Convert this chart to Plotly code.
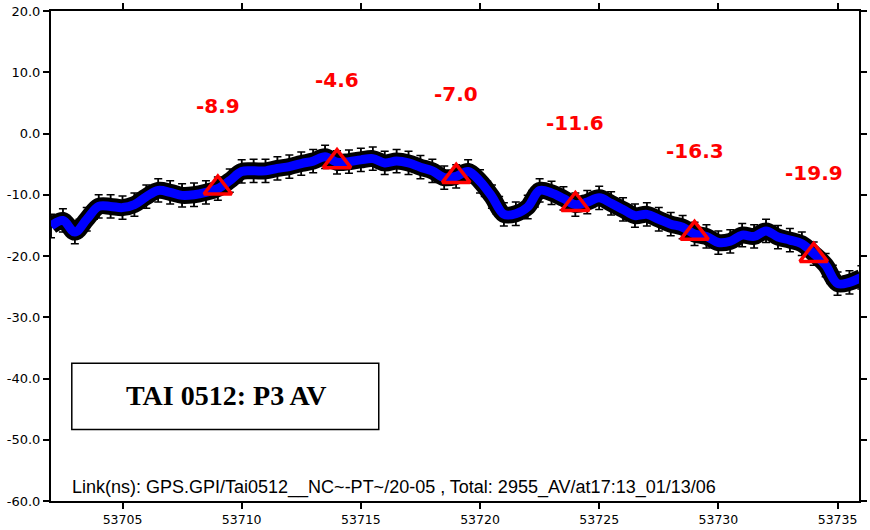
import plotly.graph_objects as go

# Smoothed link (blue), MJD vs ns
mjd = [53702.0, 53702.5, 53703.0, 53703.5, 53704.0, 53704.5, 53705.0, 53705.5,
       53706.0, 53706.5, 53707.0, 53707.5, 53708.0, 53708.5, 53709.0, 53709.5,
       53710.0, 53710.5, 53711.0, 53711.5, 53712.0, 53712.5, 53713.0, 53713.5,
       53714.0, 53714.5, 53715.0, 53715.5, 53716.0, 53716.5, 53717.0, 53717.5,
       53718.0, 53718.5, 53719.0, 53719.5, 53720.0, 53720.5, 53721.0, 53721.5,
       53722.0, 53722.5, 53723.0, 53723.5, 53724.0, 53724.5, 53725.0, 53725.5,
       53726.0, 53726.5, 53727.0, 53727.5, 53728.0, 53728.5, 53729.0, 53729.5,
       53730.0, 53730.5, 53731.0, 53731.5, 53732.0, 53732.5, 53733.0, 53733.5,
       53734.0, 53734.5, 53735.0, 53735.5, 53736.0]
ns = [-15.1, -14.2, -16.1, -14.0, -11.9, -11.9, -12.1, -11.6,
      -10.3, -9.3, -9.6, -10.1, -10.0, -9.6, -9.0, -7.7,
      -6.2, -6.1, -6.1, -5.7, -5.4, -4.9, -4.5, -3.8,
      -4.7, -4.6, -4.3, -4.1, -4.8, -4.5, -4.8, -5.5,
      -6.1, -7.2, -7.0, -6.2, -7.8, -10.3, -13.2, -13.1,
      -12.0, -9.3, -9.7, -10.6, -11.6, -11.2, -10.5, -11.4,
      -12.4, -13.4, -13.2, -14.0, -14.8, -15.3, -16.4, -16.8,
      -17.8, -17.6, -16.6, -16.8, -15.9, -16.9, -17.4, -18.0,
      -19.6, -21.5, -24.5, -24.3, -23.5]

# Marked averages (red triangles)
mark_mjd = [53709, 53714, 53719, 53724, 53729, 53734]
mark_ns = [-8.9, -4.6, -7.0, -11.6, -16.3, -19.9]
mark_labels = ["-8.9", "-4.6", "-7.0", "-11.6", "-16.3", "-19.9"]

x_ticks = [53705, 53710, 53715, 53720, 53725, 53730, 53735]
y_ticks = [20, 10, 0, -10, -20, -30, -40, -50, -60]
y_ticklabels = ["20.0", "10.0", "0.0", "-10.0", "-20.0", "-30.0", "-40.0", "-50.0", "-60.0"]

title_text = "TAI 0512: P3 AV"
footer_text = "Link(ns): GPS.GPI/Tai0512__NC~-PT~/20-05 , Total: 2955_AV/at17:13_01/13/06"

fig = go.Figure()

# black measurement band: thick line + spread bars + cross markers
fig.add_trace(go.Scatter(
    x=mjd, y=ns, mode="lines+markers",
    line=dict(color="black", width=17, shape="spline"),
    marker=dict(symbol="cross-thin", size=16, line=dict(color="black", width=1.5)),
    error_y=dict(type="constant", value=1.9, color="black", thickness=1.5, width=4),
    hoverinfo="skip", showlegend=False))
# blue smoothed line
fig.add_trace(go.Scatter(
    x=mjd, y=ns, mode="lines",
    line=dict(color="#0000ff", width=9, shape="spline"),
    showlegend=False))
# red triangles
fig.add_trace(go.Scatter(
    x=mark_mjd, y=mark_ns, mode="markers",
    marker=dict(symbol="triangle-up-open", size=24, line=dict(color="#ff0000", width=3.5),
                color="#ff0000"),
    showlegend=False))

for xv, yv, lab in zip(mark_mjd, mark_ns, mark_labels):
    fig.add_annotation(x=xv, y=yv, text="<b>%s</b>" % lab, showarrow=False,
                       yshift=82, font=dict(family="DejaVu Sans", size=20, color="#ff0000"))

# title box
fig.add_shape(type="rect", xref="paper", yref="paper",
              x0=(72 - 51) / 816, x1=(382 - 51) / 816,
              y0=(505 - 433) / 494, y1=(505 - 366) / 494,
              line=dict(color="black", width=1.5), fillcolor="white", layer="below")
fig.add_annotation(xref="paper", yref="paper", x=(228 - 51) / 816, y=(505 - 399) / 494,
                   xanchor="center", yanchor="middle",
                   text="<b>%s</b>" % title_text, showarrow=False,
                   font=dict(family="Liberation Serif, Times New Roman", size=28, color="black"))

fig.add_annotation(xref="paper", yref="paper", x=(70 - 51) / 816, y=0.0, yshift=1,
                   xanchor="left", yanchor="bottom", text=footer_text, showarrow=False,
                   font=dict(family="Liberation Sans, Arial", size=18, color="black"))

fig.update_layout(
    width=870, height=530,
    margin=dict(l=51, r=3, t=11, b=25),
    paper_bgcolor="white", plot_bgcolor="white",
    font=dict(family="DejaVu Sans", color="black"),
)
fig.update_xaxes(range=[53702.0, 53735.9], tickvals=x_ticks, ticktext=[str(v) for v in x_ticks],
                 showgrid=False, zeroline=False, showline=True, linecolor="black", linewidth=2,
                 mirror="ticks", ticks="outside", ticklen=6, tickwidth=2, tickcolor="black",
                 tickfont=dict(size=12.5))
fig.update_yaxes(range=[-60, 20], tickvals=y_ticks, ticktext=y_ticklabels,
                 showgrid=False, zeroline=False, showline=True, linecolor="black", linewidth=2,
                 mirror="ticks", ticks="outside", ticklen=6, tickwidth=2, tickcolor="black",
                 tickfont=dict(size=13))

fig.write_html("out.html")
